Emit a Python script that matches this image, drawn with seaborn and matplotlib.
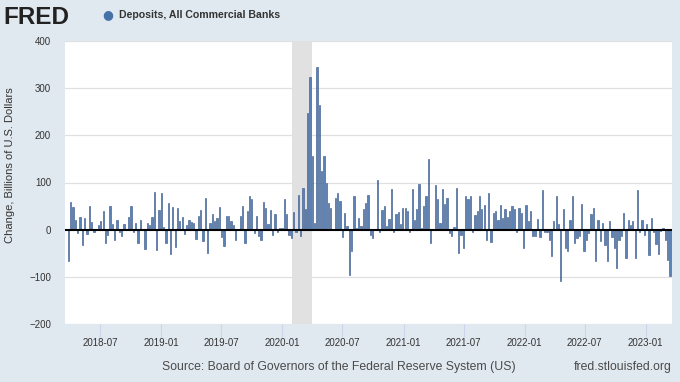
import matplotlib
matplotlib.use('Agg')
import matplotlib.pyplot as plt
import matplotlib.dates as mdates
import numpy as np
import pandas as pd
import seaborn as sns

# ---- data (weekly change, billions of USD) ----
values = [
    -67, 58, 48, 21, -7, 27, -32, 25, -10, 50, 16, -4, 1, 10, 18, 39, -28, -11, 50, 13,
    -21, 21, -4, -13, 13, 1, 27, 51, -4, 14, -28, 21, -1, -41, 14, 10, 26, 80, -44, 42,
    78, 6,
    -28, 57, -51, 48, -37, 45, 18, 27, -9, 9, 21, 16, 14, -20, 30, 41, -23, 67, -50, 14,
    34, 18, 25, 48, -16, -35, 30, 28, 18, 9, -21, 0, 28, 50, -28, 40, 72, 65, -7, 28,
    -14, -21, 58,
    46, 11, 41, -11, 34, -4, 4, 4, 64, 34, -11, -18, 37, -4, 74, -13, 89, 43, 247, 323,
    156, 14, 344, 264, 124, 156, 98, 57, 46, 0, 67, 77, 60, -16, 35, 7, -96, -46, 71, 4,
    25, 7, 44, 57,
    74, -11, -18, 0, 106, -4, 41, 51, 7, 23, 87, -4, 34, 37, 11, 46, 46, 39, -4, 87,
    21, 44, 96, 4, 51, 72, 150, -28, -1, 95, 65, 14, 87, 55, 67, -7, -14, 6, 89, -50,
    -11, -39, 71,
    64, 71, -4, 32, 39, 71, 44, 53, -21, 78, -27, 35, 39, 21, 53, 25, 43, 27, 39, 50,
    43, -4, 46, 35, -39, 53, 18, 39, -13, -14, 23, -16, 84, -6, -4, -21, -55, 18, 72, 11,
    -108, 43,
    -39, -46, 20, 71, -28, -18, -13, 55, -46, -21, -7, 34, 46, -67, 20, -25, 14, -32, -67, 18,
    -16, -39, -82, -21, -13, 35, -60, 20, 9, 18, -60, 84, -6, 21, -11, 11, -53, 25, -6, -30,
    -51, -3, 3, -21, -64, -98,
]
last_week = '2023-03-15'
recession = ['2020-02-01', '2020-04-01']
x_range = ['2018-03-18', '2023-03-21']
y_ticks = [-200, -100, 0, 100, 200, 300, 400]
series_name = 'Deposits, All Commercial Banks'
y_label = 'Change, Billions of U.S. Dollars'
source_text = 'Source: Board of Governors of the Federal Reserve System (US)'
site_text = 'fred.stlouisfed.org'

sns.set_theme(style='white')
plt.rcParams['font.family'] = ['Liberation Sans', 'DejaVu Sans']

dates = pd.date_range(end=last_week, periods=len(values), freq='W-WED')
df = pd.DataFrame({'date': mdates.date2num(dates), 'change': values})

W, H = 680, 382
fig = plt.figure(figsize=(W / 100, H / 100), dpi=100, facecolor='#e1e9f0')
ax = fig.add_axes([65 / W, 1 - 324 / H, (672 - 65) / W, (324 - 41) / H])
ax.set_facecolor('white')

x0, x1 = mdates.date2num(pd.to_datetime(x_range))
for yv in y_ticks:
    if yv != 0:
        ax.axhline(yv, color='#e0e0e0', lw=0.9, zorder=0.5)

r0, r1 = mdates.date2num(pd.to_datetime(recession))
ax.axvspan(r0, r1, color='#e1e1e1', lw=0, zorder=1)

sns.barplot(data=df, x='date', y='change', native_scale=True, width=0.55,
            color='#5a82b6', saturation=1, edgecolor='#3e5f92', linewidth=0.45,
            errorbar=None, ax=ax, zorder=3)

ax.axhline(0, color='black', lw=1.5, zorder=4)

ax.set_xlim(x0, x1)
ax.set_ylim(-200, 400)
ax.set_yticks(y_ticks)
ax.xaxis.set_major_locator(mdates.MonthLocator(bymonth=[1, 7]))
ax.xaxis.set_major_formatter(mdates.DateFormatter('%Y-%m'))
ax.set_xlabel('')
ax.set_ylabel('')
for s in ax.spines.values():
    s.set_visible(False)
ax.tick_params(axis='x', length=9, width=0.8, color='#ccd6eb', labelsize=7,
               labelcolor='#333333', pad=1, bottom=True, direction='out')
ax.tick_params(axis='y', length=0, labelsize=7, labelcolor='#333333', pad=10)

fig.text(10 / W, 1 - 165 / H, y_label, rotation=90, ha='center', va='center',
         fontsize=8, color='#333333')

fig.text(3 / W, 1 - 24 / H, 'FRED', fontsize=17.5, fontweight='heavy',
         color='#222222', va='baseline', ha='left')
fig.text(107.5 / W, 1 - 15 / H, '\u25CF', fontsize=9, color='#4572a7',
         ha='center', va='center', family=['DejaVu Sans'])
fig.text(119 / W, 1 - 15 / H, series_name, fontsize=7.6, fontweight='bold',
         color='#333333', ha='left', va='center')

fig.text(162 / W, 1 - 367 / H, source_text, fontsize=8.8, color='#4a4a4a',
         ha='left', va='center')
fig.text(672 / W, 1 - 367 / H, site_text, fontsize=8.8, color='#4a4a4a',
         ha='right', va='center')

fig.savefig('out.png', dpi=100, facecolor=fig.get_facecolor())
